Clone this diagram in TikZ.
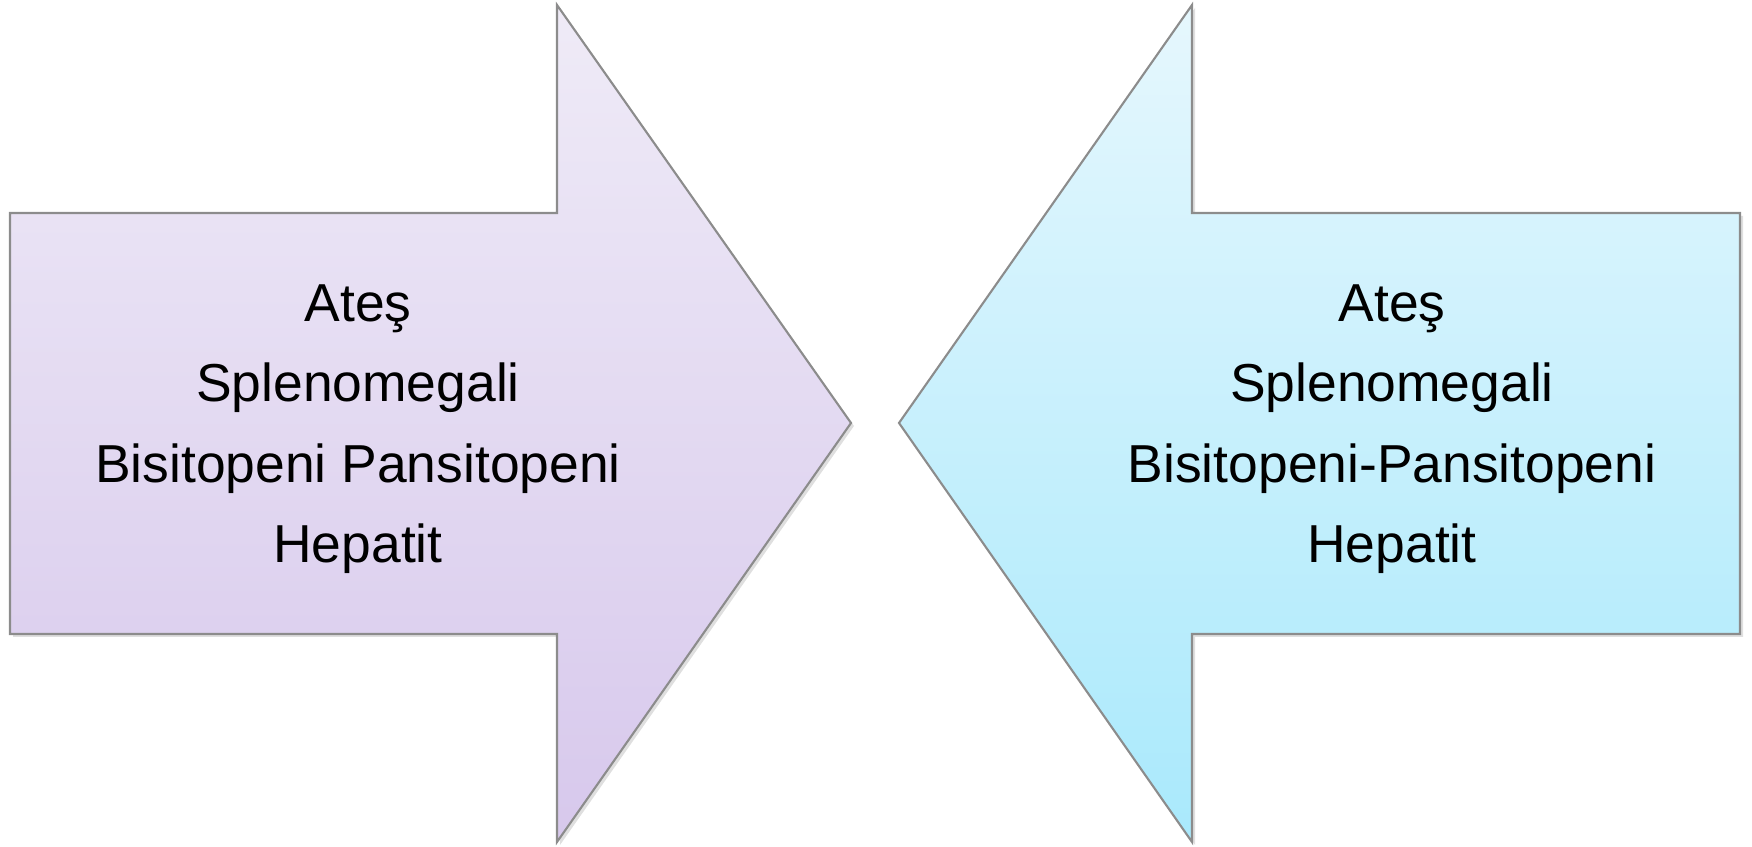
\documentclass[tikz,border=0pt]{standalone}
\usepackage{fontspec}
\setmainfont{Liberation Sans}
\usetikzlibrary{shadows}
\definecolor{lilacTop}{HTML}{EFEBF7}
\definecolor{lilacBottom}{HTML}{D7C8EC}
\definecolor{skyTop}{HTML}{E6F7FD}
\definecolor{skyBottom}{HTML}{A9E9FC}
\definecolor{rim}{HTML}{8C8C8C}
\tikzset{
    bigarrow/.style={draw=rim, line width=0.6pt, line join=miter,
        drop shadow={opacity=0.25, shadow xshift=0.03cm, shadow yshift=-0.03cm}},
    symptoms/.style={align=center, inner sep=0pt, font=\fontsize{15.2}{22.9}\selectfont}
}

\begin{document}
\begin{tikzpicture}
    \useasboundingbox (0,0) rectangle (17.52,8.47);

    % arrow pointing right
    \path[bigarrow, top color=lilacTop, bottom color=lilacBottom]
        (0.10,6.34) -- (5.57,6.34) -- (5.57,8.42) -- (8.51,4.24)
        -- (5.57,0.05) -- (5.57,2.13) -- (0.10,2.13) -- cycle;
    % arrow pointing left
    \path[bigarrow, top color=skyTop, bottom color=skyBottom]
        (17.40,6.34) -- (11.92,6.34) -- (11.92,8.42) -- (8.99,4.24)
        -- (11.92,0.05) -- (11.92,2.13) -- (17.40,2.13) -- cycle;

    \node[symptoms] (leftlist) at (3.58,4.18)
        {Ateş\\Splenomegali\\Bisitopeni Pansitopeni\\Hepatit};
    \node[symptoms] (rightlist) at (13.92,4.18)
        {Ateş\\Splenomegali\\Bisitopeni-Pansitopeni\\Hepatit};
\end{tikzpicture}
\end{document}
